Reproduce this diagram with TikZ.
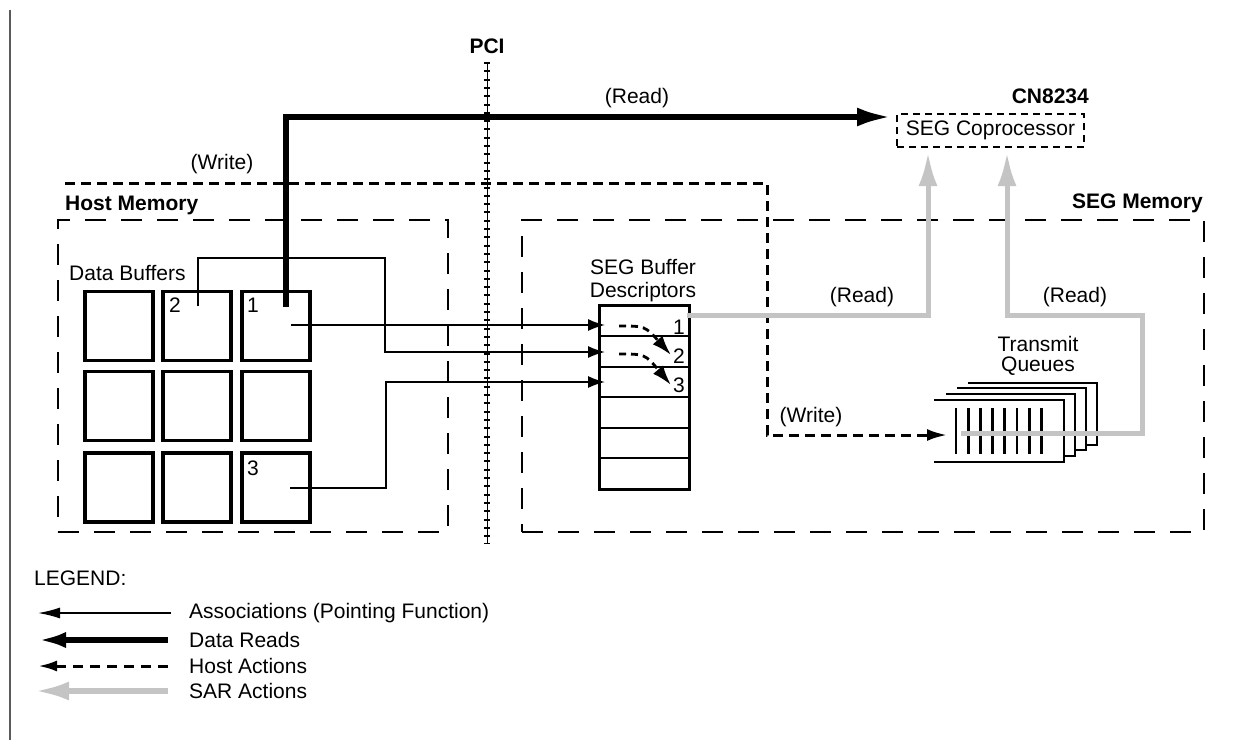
\documentclass[tikz,border=0pt]{standalone}
\usepackage{fontspec}
\setmainfont{Liberation Sans}
\usetikzlibrary{arrows.meta}
\definecolor{sargray}{RGB}{196,196,196}
\definecolor{framegray}{RGB}{90,90,90}
\begin{document}
\begin{tikzpicture}[x=1pt,y=-1pt,
  font=\fontsize{21}{25}\selectfont,
  txt/.style={inner sep=0pt},
  assoc/.style={line width=1.6pt, -{Latex[length=17pt,width=12pt]}},
  dataread/.style={line width=5.5pt, -{Latex[length=34pt,width=19pt]}},
  hostact/.style={line width=3pt, dash pattern=on 10pt off 6pt, -{Latex[length=20pt,width=12pt]}},
  hostcurve/.style={line width=2.8pt, dash pattern=on 7pt off 5pt, -{Latex[length=20pt,width=13pt]}},
  sar/.style={draw=sargray, line width=5pt, -{Latex[length=34pt,width=19pt]}},
  memframe/.style={draw, line width=2.6pt, dash pattern=on 21pt off 15pt, inner sep=0pt},
  buf/.style={draw, line width=3.3pt, minimum width=68pt, minimum height=69pt, inner sep=0pt},
  qbox/.style={line width=2.8pt},
  qbar/.style={line width=2.8pt}
]
\useasboundingbox (0,0) rectangle (1243,740);

% left margin rule
\coordinate (lt) at (10,10);
\coordinate (lb) at (10,740);
\draw[line width=1.6pt, draw=framegray] (lt) -- (lb);

% memory frames
\node[memframe, minimum width=390pt, minimum height=312pt] (hostmem) at (253,376) {};
\node[memframe, minimum width=682pt, minimum height=312pt] (segmem) at (863,376) {};
\node[txt, anchor=west] (hostlbl) at (65,205) {\bfseries Host Memory};
\node[txt, anchor=east] (seglbl) at (1203,203) {\bfseries SEG Memory};

% PCI bus
\node[txt] (pci) at (487,46) {\bfseries PCI};
\coordinate (pcitop) at (487,62);
\coordinate (pcibot) at (487,544);
\draw[line width=1pt] (pcitop) -- (pcibot);
\draw[line width=6pt, dash pattern=on 2pt off 6.3pt] (pcitop) -- (pcibot);

% coprocessor
\node[txt, anchor=east] (cn) at (1089,96) {\bfseries CN8234};
\node[draw, line width=2.2pt, dash pattern=on 7pt off 5pt, minimum width=187pt, minimum height=33pt, inner sep=0pt] (cop) at (990.5,130.5) {SEG Coprocessor};

% data buffers
\node[txt, anchor=west] (dblbl) at (69,273) {Data Buffers};
\node[buf] (b11) at (119,326) {};
\node[buf] (b12) at (197,326) {};
\node[buf] (b13) at (276,326) {};
\node[buf] (b21) at (119,406) {};
\node[buf] (b22) at (197,406) {};
\node[buf] (b23) at (276,406) {};
\node[buf] (b31) at (119,487.5) {};
\node[buf] (b32) at (197,487.5) {};
\node[buf] (b33) at (276,487.5) {};
\node[txt] (n2) at (175,305) {2};
\node[txt] (n1) at (253,305) {1};
\node[txt] (n3) at (253,468) {3};

% descriptors
\node[txt, align=center, font=\fontsize{21}{23}\selectfont] (desclbl) at (643,281) {SEG Buffer\\Descriptors};
\node[draw, line width=3pt, minimum width=90pt, minimum height=184pt, inner sep=0pt] (desc) at (644,397) {};
\foreach \yy in {336,367,397,428,458} \draw[line width=2.5pt] (599,\yy) -- (689,\yy);
\node[txt, anchor=east] (d1) at (685,327) {1};
\node[txt, anchor=east] (d2) at (685,356) {2};
\node[txt, anchor=east] (d3) at (685,385) {3};

% transmit queues
\node[txt, align=center, font=\fontsize{21}{20}\selectfont] (tqlbl) at (1038,356) {Transmit\\Queues};
\foreach \k/\l/\r/\t/\b in {3/968/1097/383/445, 2/957/1086/388/450, 1/946/1075/394/456, 0/934/1064/400/462}{
  \fill[white] (\l,\t) rectangle (\r,\b);
  \draw[qbox] (\l,\t) -- (\r,\t) -- (\r,\b) -- (\l,\b);
}
\foreach \i in {0,...,7} \draw[qbar] (956+12.2*\i,408) -- (956+12.2*\i,454);
\coordinate (tqin) at (947,435);
\coordinate (tqout) at (961,433);

% associations
\coordinate (a1s) at (291,325);
\coordinate (a1e) at (605,325);
\coordinate (a2s) at (198,306);
\coordinate (a2e) at (605,352);
\coordinate (a3s) at (290,488);
\coordinate (a3e) at (605,382);
\draw[assoc] (a1s) -- (a1e);
\draw[assoc] (a2s) -- (198,258) -- (385,258) -- (385,352) -- (a2e);
\draw[assoc] (a3s) -- (386,488) -- (386,382) -- (a3e);

% host curved actions
\coordinate (c1s) at (619,326);
\coordinate (c1e) at (671,355);
\coordinate (c2s) at (619,354);
\coordinate (c2e) at (671,385);
\draw[hostcurve] (c1s) .. controls (645,326) .. (c1e);
\draw[hostcurve] (c2s) .. controls (645,354) .. (c2e);

% host write path
\coordinate (hw0) at (65,183);
\draw[hostact] (hw0) -- (767,183) -- (767,435) -- (tqin);
\node[txt] (wr1) at (222,164) {(Write)};
\node[txt] (wr2) at (811,417) {(Write)};

% data read
\coordinate (rd0) at (286,307);
\coordinate (copin) at (891,117);
\draw[dataread] (rd0) |- (copin);
\node[txt] (rdlbl) at (637,98) {(Read)};

% SAR actions
\coordinate (s1s) at (687,315);
\coordinate (copa) at (928,152);
\coordinate (copb) at (1007,152);
\draw[sar] (s1s) -| (copa);
\draw[sar] (tqout) -- (1142,433) -- (1142,315) -| (copb);
\node[txt] (sr1) at (862,297) {(Read)};
\node[txt] (sr2) at (1075,297) {(Read)};

% legend
\node[txt, anchor=west] (leg) at (34,578) {LEGEND:};
\coordinate (l1s) at (171,613); \coordinate (l1e) at (38,613);
\coordinate (l2s) at (168,640); \coordinate (l2e) at (38,640);
\coordinate (l3s) at (168,666); \coordinate (l3e) at (38,666);
\coordinate (l4s) at (168,691); \coordinate (l4e) at (35,691);
\draw[line width=1.6pt, -{Latex[length=22pt,width=11pt]}] (l1s) -- (l1e);
\draw[line width=5.5pt, -{Latex[length=28pt,width=16pt]}] (l2s) -- (l2e);
\draw[line width=3pt, dash pattern=on 10pt off 7pt, -{Latex[length=19pt,width=11pt]}] (l3s) -- (l3e);
\draw[draw=sargray, line width=5.5pt, -{Latex[length=34pt,width=19pt]}] (l4s) -- (l4e);
\node[txt, anchor=west] (lt1) at (189,613) {Associations (Pointing Function)};
\node[txt, anchor=west] (lt2) at (189,640) {Data Reads};
\node[txt, anchor=west] (lt3) at (189,666) {Host Actions};
\node[txt, anchor=west] (lt4) at (189,691) {SAR Actions};
\end{tikzpicture}
\end{document}
